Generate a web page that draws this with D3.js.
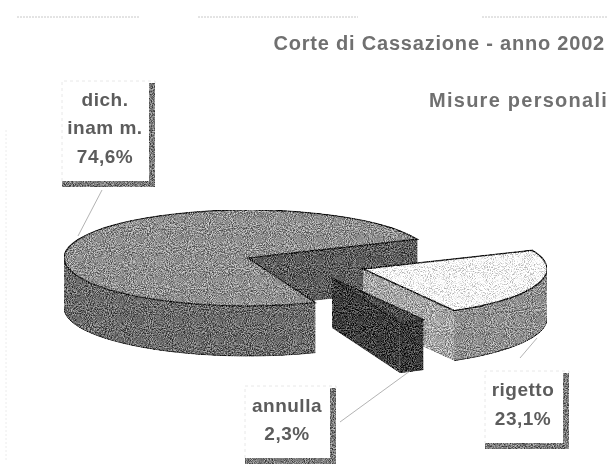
<!DOCTYPE html>
<html>
<head>
<meta charset="utf-8">
<script src="https://cdnjs.cloudflare.com/ajax/libs/d3/7.8.5/d3.min.js"></script>
<style>
  html, body { margin: 0; padding: 0; background: #fff; }
  svg { display: block; }
</style>
</head>
<body>
<div id="chart"></div>
<script>
// Data
const categories = ["dich. inamm.", "rigetto", "annulla"];
const values = [74.6, 23.1, 2.3];
const labelLines = [["dich.", "inam m.", "74,6%"], ["rigetto", "23,1%"], ["annulla", "2,3%"]];
const titleText = "Corte di Cassazione - anno 2002";
const subtitleText = "Misure personali";

// Layout
const width = 610, height = 476;
const cx = 248, cy = 258, rx = 184, ry = 48, depth = 50;
const startDeg = 158.5;
const sliceOffsets = [[0, 0], [115, 11], [84, 20]];
const sliceColors = [
  { top: "#8e8e8e", wall: "#6a6a6a", cut: "#5c5c5c" },
  { top: "#f8f8f8", wall: "#8e8e8e", cut: "#a4a4a4" },
  { top: "#4a4a4a", wall: "#383838", cut: "#3c3c3c" }
];
const labelBoxes = [
  { x: 62, y: 83, w: 93, h: 104, tx: 105, base: [106, 134, 163], line: [102, 190, 78, 236] },
  { x: 485, y: 373, w: 84, h: 76, tx: 523, base: [396, 425], line: [537, 338, 520, 358] },
  { x: 245, y: 388, w: 91, h: 76, tx: 287, base: [412, 440], line: [340, 422, 410, 371] }
];

const svg = d3.select("#chart").append("svg")
  .attr("width", width)
  .attr("height", height)
  .style("font-family", "'Liberation Sans', Arial, sans-serif");

svg.append("rect").attr("width", width).attr("height", height).attr("fill", "#fff");

// Halftone look of the scan
const defs = svg.append("defs");
const grain = defs.append("filter").attr("id", "grain")
  .attr("x", 0).attr("y", 0).attr("width", 1).attr("height", 1)
  .attr("color-interpolation-filters", "sRGB");
grain.append("feTurbulence").attr("type", "fractalNoise").attr("baseFrequency", 0.95)
  .attr("numOctaves", 2).attr("seed", 4).attr("result", "noise");
grain.append("feColorMatrix").attr("in", "noise").attr("type", "matrix")
  .attr("values", "1.5 1.5 0 0 -1  1.5 1.5 0 0 -1  1.5 1.5 0 0 -1  0 0 0 0 1").attr("result", "grey");
grain.append("feComposite").attr("in", "SourceGraphic").attr("in2", "grey")
  .attr("operator", "arithmetic").attr("k1", 0).attr("k2", 1).attr("k3", 0.55).attr("k4", -0.27)
  .attr("result", "mixed");
grain.append("feComposite").attr("in", "mixed").attr("in2", "SourceAlpha").attr("operator", "in");

defs.append("filter").attr("id", "soft")
  .attr("x", "-5%").attr("y", "-20%").attr("width", "110%").attr("height", "140%")
  .append("feGaussianBlur").attr("stdDeviation", 0.45);

// Faint scan marks along the top and the left
svg.append("g").selectAll("line")
  .data([[17, 140], [198, 358], [482, 607]])
  .enter().append("line")
  .attr("x1", d => d[0]).attr("x2", d => d[1])
  .attr("y1", 17).attr("y2", 17)
  .attr("stroke", "#c8c8c8").attr("stroke-width", 1).attr("stroke-dasharray", "2 1");
svg.append("line").attr("x1", 6).attr("x2", 6).attr("y1", 130).attr("y2", 460)
  .attr("stroke", "#ececec").attr("stroke-dasharray", "2 2");

// Titles
const titles = svg.append("g").attr("filter", "url(#soft)");
titles.append("text").attr("x", 605).attr("y", 50).attr("text-anchor", "end")
  .attr("font-size", 20).attr("font-weight", "bold").attr("fill", "#707070")
  .attr("letter-spacing", 0.8).text(titleText);
titles.append("text").attr("x", 608).attr("y", 107).attr("text-anchor", "end")
  .attr("font-size", 20).attr("font-weight", "bold").attr("fill", "#707070")
  .attr("letter-spacing", 1.25).text(subtitleText);

// Pie angles
const TAU = Math.PI * 2;
const pie = d3.pie().sort(null)
  .startAngle(startDeg * Math.PI / 180)
  .endAngle((startDeg + 360) * Math.PI / 180);
const slices = pie(values);
const arcGen = d3.arc().innerRadius(0).outerRadius(rx);

const pt = (t, off, dz) => [
  cx + off[0] + rx * Math.sin(t),
  cy + off[1] - ry * Math.cos(t) + (dz || 0)
];

// Outer rim between two angles, only the front half can be seen
function rimPath(a, b, off) {
  const p0 = pt(a, off), p1 = pt(b, off), q1 = pt(b, off, depth), q0 = pt(a, off, depth);
  return `M${p0}A${rx},${ry} 0 0 1 ${p1}L${q1}A${rx},${ry} 0 0 0 ${q0}Z`;
}

// Lower edge of that rim, drawn on its own so the sides stay unstroked
function rimEdge(a, b, off) {
  return `M${pt(a, off, depth)}A${rx},${ry} 0 0 1 ${pt(b, off, depth)}`;
}

// Flat wall from the slice centre out to the rim at angle t
function cutPath(t, off) {
  const v = [cx + off[0], cy + off[1]];
  return `M${v}L${pt(t, off)}L${pt(t, off, depth)}L${[v[0], v[1] + depth]}Z`;
}

const pieGroup = svg.append("g").attr("filter", "url(#grain)");

slices.forEach((s, i) => {
  const off = sliceOffsets[i];
  const c = sliceColors[i];
  const g = pieGroup.append("g");

  // the wall at the end angle is the one turned to the viewer
  g.append("path").attr("d", cutPath(s.endAngle, off)).attr("fill", c.cut);

  // front part of the rim; the later slices have gone past a full turn
  const wrap = s.startAngle >= TAU ? TAU : 0;
  const from = Math.max(s.startAngle - wrap, Math.PI / 2);
  const to = Math.min(s.endAngle - wrap, Math.PI * 1.5);
  if (to > from) {
    g.append("path").attr("d", rimPath(from, to, off)).attr("fill", c.wall);
    g.append("path").attr("d", rimEdge(from, to, off))
      .attr("fill", "none").attr("stroke", "#333").attr("stroke-width", 1);
  }

  // top face, the circle squashed to an ellipse
  g.append("path")
    .attr("transform", `translate(${cx + off[0]},${cy + off[1]}) scale(1,${ry / rx})`)
    .attr("d", arcGen(s))
    .attr("fill", c.top)
    .attr("stroke", "#222")
    .attr("stroke-width", 1.4)
    .attr("vector-effect", "non-scaling-stroke");
});

// Labels with their drop-shadow bars and leader lines
const shadow = 6;
labelBoxes.forEach((b, i) => {
  const g = svg.append("g");
  g.append("line")
    .attr("x1", b.line[0]).attr("y1", b.line[1]).attr("x2", b.line[2]).attr("y2", b.line[3])
    .attr("stroke", "#a0a0a0").attr("stroke-width", 0.8);
  g.append("path")
    .attr("d", `M${b.x + b.w},${b.y}V${b.y - 2}H${b.x}V${b.y + b.h - shadow}`)
    .attr("fill", "none").attr("stroke", "#e8e8e8").attr("stroke-dasharray", "3 3");
  g.append("rect").attr("x", b.x + b.w - shadow).attr("y", b.y).attr("width", shadow).attr("height", b.h)
    .attr("fill", "#777").attr("filter", "url(#grain)");
  g.append("rect").attr("x", b.x).attr("y", b.y + b.h - shadow).attr("width", b.w).attr("height", shadow)
    .attr("fill", "#777").attr("filter", "url(#grain)");
  const txt = g.append("g").attr("filter", "url(#soft)");
  labelLines[i].forEach((t, j) => {
    txt.append("text").attr("x", b.tx).attr("y", b.base[j]).attr("text-anchor", "middle")
      .attr("font-size", 19).attr("font-weight", "bold").attr("fill", "#5c5c5c")
      .attr("letter-spacing", 0.5).text(t);
  });
});
</script>
</body>
</html>
